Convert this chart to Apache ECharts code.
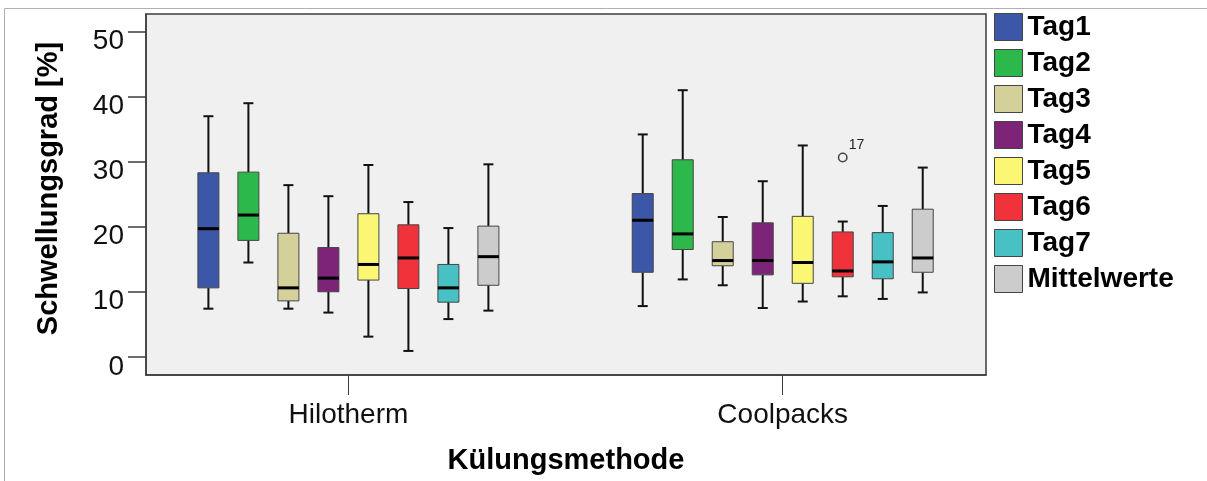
<!DOCTYPE html>
<html><head><meta charset="utf-8">
<script src="https://cdn.jsdelivr.net/npm/echarts@6/dist/echarts.min.js"></script>
<style>html,body{margin:0;padding:0;background:#fff;}#c{width:1207px;height:481px;}</style>
</head><body><div id="c"></div>
<script>
const categories = ['Hilotherm', 'Coolpacks'];
const seriesNames = ['Tag1', 'Tag2', 'Tag3', 'Tag4', 'Tag5', 'Tag6', 'Tag7', 'Mittelwerte'];
// each entry: [low whisker, Q1, median, Q3, high whisker] for Hilotherm, Coolpacks
const tag1 = [[7.4, 10.6, 19.7, 28.3, 37.0], [7.8, 13.0, 21.0, 25.1, 34.2]];
const tag2 = [[14.5, 17.9, 21.8, 28.4, 39.0], [11.9, 16.5, 18.9, 30.3, 41.0]];
const tag3 = [[7.4, 8.6, 10.6, 19.0, 26.4], [11.0, 14.0, 14.8, 17.7, 21.5]];
const tag4 = [[6.8, 10.0, 12.1, 16.8, 24.7], [7.5, 12.6, 14.8, 20.6, 27.0]];
const tag5 = [[3.1, 11.8, 14.2, 22.0, 29.5], [8.5, 11.3, 14.5, 21.6, 32.5]];
const tag6 = [[0.9, 10.5, 15.2, 20.3, 23.8], [9.3, 12.3, 13.2, 19.2, 20.8]];
const tag7 = [[5.8, 8.4, 10.6, 14.2, 19.8], [8.9, 12.0, 14.6, 19.1, 23.2]];
const mittelwerte = [[7.1, 11.0, 15.4, 20.1, 29.6], [9.9, 13.0, 15.2, 22.7, 29.1]];
// outliers: [category index, series index, value, case label]
const outliers = [[1, 5, 30.65, '17']];
const yTicks = [0, 10, 20, 30, 40, 50];
const xTicks = [0, 1];

const allSeries = [tag1, tag2, tag3, tag4, tag5, tag6, tag7, mittelwerte];
const colors = ['#3c56a8', '#2db84b', '#d4d09a', '#7d2378', '#fbf774', '#f0323b', '#47c1c4', '#cccccc'];
const FONT = "'Liberation Sans', Arial, sans-serif";
const SPACING = 40, HALF = 10.5, CAP = 5;

function boxRender(params, api) {
  const si = params.seriesIndex;
  const cat = api.value(0);
  const cx = api.coord([cat, 0])[0] + (si - 3.5) * SPACING;
  const y = v => api.coord([cat, v])[1];
  const yLow = y(api.value(1)), yQ1 = y(api.value(2)), yMed = y(api.value(3)), yQ3 = y(api.value(4)), yHigh = y(api.value(5));
  const ws = { stroke: '#111', lineWidth: 2 };
  return {
    type: 'group',
    children: [
      { type: 'line', shape: { x1: cx, y1: yHigh, x2: cx, y2: yQ3 }, style: ws },
      { type: 'line', shape: { x1: cx, y1: yQ1, x2: cx, y2: yLow }, style: ws },
      { type: 'line', shape: { x1: cx - CAP, y1: yHigh, x2: cx + CAP, y2: yHigh }, style: ws },
      { type: 'line', shape: { x1: cx - CAP, y1: yLow, x2: cx + CAP, y2: yLow }, style: ws },
      { type: 'rect', shape: { x: cx - HALF, y: yQ3, width: 2 * HALF, height: yQ1 - yQ3 },
        style: { fill: colors[si], stroke: '#454545', lineWidth: 1 } },
      { type: 'line', shape: { x1: cx - HALF, y1: yMed, x2: cx + HALF, y2: yMed }, style: { stroke: '#000', lineWidth: 3 } }
    ]
  };
}

function outlierRender(params, api) {
  const cat = api.value(0), si = api.value(1);
  const p = api.coord([cat, api.value(2)]);
  const cx = p[0] + (si - 3.5) * SPACING;
  return {
    type: 'group',
    children: [
      { type: 'circle', shape: { cx: cx, cy: p[1], r: 4.2 }, style: { fill: 'none', stroke: '#444', lineWidth: 1.5 } },
      { type: 'text', style: { text: outliers[params.dataIndex][3], x: cx + 6, y: p[1] - 12,
        fontSize: 14, fontFamily: FONT, fill: '#222', align: 'left', verticalAlign: 'middle' } }
    ]
  };
}

const series = allSeries.map((d, si) => ({
  name: seriesNames[si],
  type: 'custom',
  renderItem: boxRender,
  itemStyle: { color: colors[si], borderColor: '#454545', borderWidth: 1 },
  encode: { x: 0, y: [1, 2, 3, 4, 5] },
  data: d.map((v, i) => [i].concat(v)),
  silent: true
}));
series.push({
  type: 'custom',
  renderItem: outlierRender,
  encode: { x: 0, y: 2 },
  data: outliers.map(o => [o[0], o[1], o[2]]),
  silent: true
});

const chart = echarts.init(document.getElementById('c'), null, { renderer: 'canvas' });
chart.setOption({
  animation: false,
  backgroundColor: '#fff',
  textStyle: { fontFamily: FONT },
  graphic: [{
    type: 'rect', shape: { x: 4.5, y: 8.5, width: 1300, height: 600 },
    style: { fill: 'none', stroke: '#b0b0b0', lineWidth: 1 }, silent: true, z: -10
  }],
  grid: {
    left: 146, right: 221, top: 14, bottom: 106, show: true,
    backgroundColor: '#f0f0f0', borderColor: '#3c3c3c', borderWidth: 1.5
  },
  legend: {
    data: seriesNames.map(n => ({ name: n, icon: 'rect' })),
    orient: 'vertical', left: 994, top: 13, padding: 0,
    itemWidth: 28, itemHeight: 27, itemGap: 8,
    itemStyle: { borderColor: '#454545', borderWidth: 1 },
    textStyle: { fontSize: 28, fontWeight: 'bold', color: '#000', fontFamily: FONT },
    selectedMode: false
  },
  xAxis: {
    type: 'value', min: -0.466, max: 1.468,
    splitLine: { show: false },
    axisLine: { show: true, onZero: false, lineStyle: { color: '#3c3c3c', width: 1.5 } },
    axisTick: { show: true, customValues: xTicks, length: 20, lineStyle: { color: '#3c3c3c', width: 1 } },
    axisLabel: { customValues: xTicks, formatter: v => categories[Math.round(v)], fontSize: 28, color: '#111', margin: 26, fontFamily: FONT },
    name: 'Külungsmethode', nameLocation: 'middle', nameGap: 71,
    nameTextStyle: { fontSize: 29, fontWeight: 'bold', color: '#000', fontFamily: FONT }
  },
  yAxis: {
    type: 'value', min: -2.8, max: 52.72,
    splitLine: { show: false },
    axisLine: { show: true, onZero: false, lineStyle: { color: '#3c3c3c', width: 1.5 } },
    axisTick: { show: true, customValues: yTicks, length: 18, lineStyle: { color: '#3c3c3c', width: 1.5 } },
    axisLabel: {
      customValues: yTicks, margin: 22,
      formatter: v => '{t|' + v + '}',
      rich: { t: { fontSize: 28, color: '#111', fontFamily: FONT, padding: [20, 0, 0, 0] } }
    },
    name: 'Schwellungsgrad [%]', nameLocation: 'middle', nameGap: 83,
    nameTextStyle: { fontSize: 29, fontWeight: 'bold', color: '#000', fontFamily: FONT, padding: [0, 0, 0, 12] }
  },
  series: series
});
</script>
</body></html>
